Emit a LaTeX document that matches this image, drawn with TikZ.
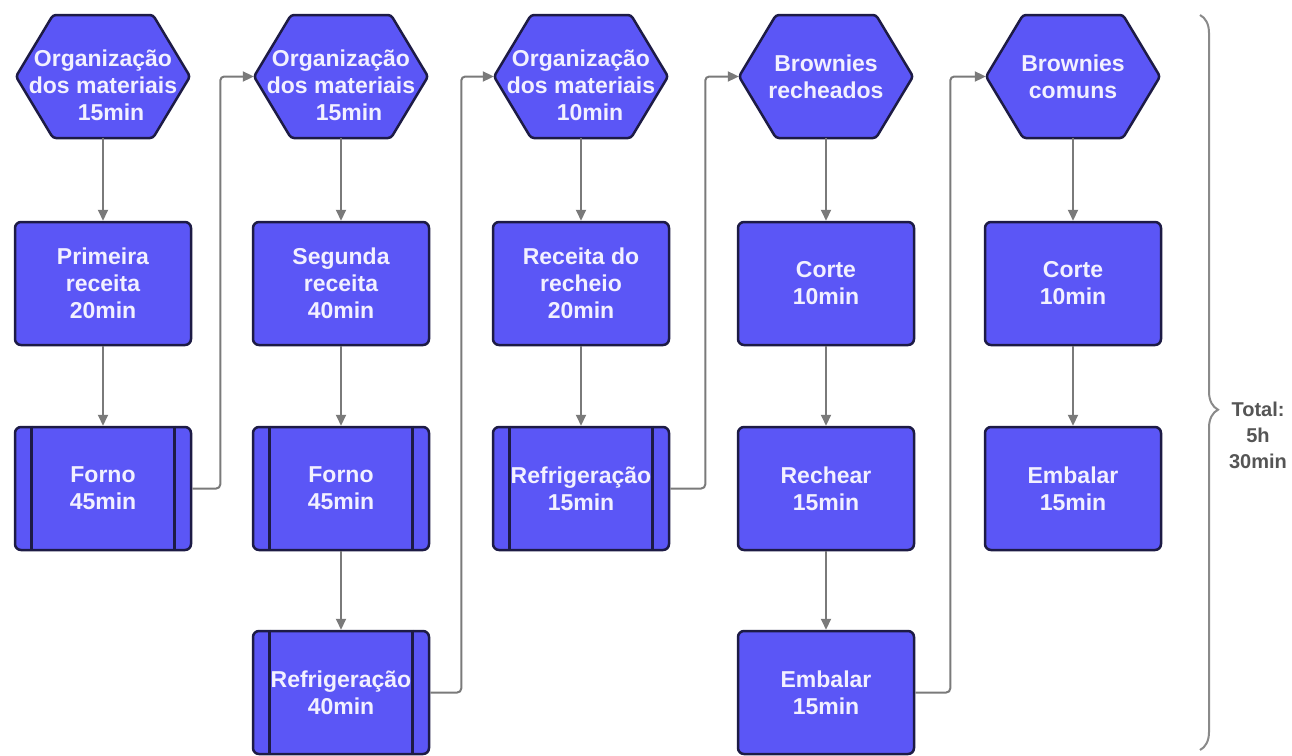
\documentclass[tikz,border=0pt]{standalone}
\usepackage{fontspec}
\setmainfont{Liberation Sans}
\usetikzlibrary{arrows.meta,calc,decorations.pathreplacing}
\definecolor{boxfill}{HTML}{5B56F6}
\definecolor{boxline}{HTML}{1D1B45}
\definecolor{conngray}{HTML}{7A7A7A}
\definecolor{txtwhite}{HTML}{F2F0FF}
\definecolor{totalgray}{HTML}{555555}
\definecolor{bracegray}{HTML}{8A8A8A}
\newcommand\myhex[3]{%
  \begin{scope}[shift={(#2,#3)}]
    \path[hexshape] (-87,0) -- (-50,-61.5) -- (50,-61.5) -- (87,0) -- (50,61.5) -- (-50,61.5) -- cycle;
  \end{scope}
  \node[hexframe] (#1) at (#2,#3) {};}
\newcommand\mysides[1]{%
  \draw[side] ($(#1.north west)+(18,0)$) -- ($(#1.south west)+(18,0)$);
  \draw[side] ($(#1.north east)+(-18,0)$) -- ($(#1.south east)+(-18,0)$);}
\begin{document}
\begin{tikzpicture}[x=1pt,y=-1pt,
  box/.style={draw=boxline, line width=2.5pt, fill=boxfill, rounded corners=6pt,
    minimum width=176pt, minimum height=123pt, inner sep=0pt, text=txtwhite,
    font=\fontsize{23}{27}\selectfont\bfseries, align=center},
  hexshape/.style={draw=boxline, line width=2.5pt, fill=boxfill, line join=round, rounded corners=3pt},
  hexframe/.style={minimum width=174pt, minimum height=123pt, inner sep=0pt},
  txt/.style={text=txtwhite, font=\fontsize{23}{27}\selectfont\bfseries, align=center, inner sep=0pt},
  side/.style={draw=boxline, line width=3pt},
  conn/.style={draw=conngray, line width=2pt, -{Triangle[length=11pt,width=10pt]}, rounded corners=4pt},
  bracestyle/.style={draw=bracegray, line width=2pt, decorate,
    decoration={brace, amplitude=18pt, aspect=0.537}},
  totaltxt/.style={text=totalgray, font=\fontsize{20}{26}\selectfont\bfseries, align=center, inner sep=0pt}
]
\fill[white] (0,0) rectangle (1292,755);
\useasboundingbox (0,0) rectangle (1292,755);

% column 1
\myhex{h1}{103}{76.5}
\node[txt] (h1t) at (103,85) {Organização\\dos materiais\\\hspace*{16pt}15min};
\node[box] (b1) at (103,283.5) {Primeira\\receita\\20min};
\node[box] (f1) at (103,488.5) {Forno\\45min};
\mysides{f1}

% column 2
\myhex{h2}{341}{76.5}
\node[txt] (h2t) at (341,85) {Organização\\dos materiais\\\hspace*{16pt}15min};
\node[box] (b2) at (341,283.5) {Segunda\\receita\\40min};
\node[box] (f2) at (341,488.5) {Forno\\45min};
\mysides{f2}
\node[box] (r2) at (341,692.5) {Refrigeração\\40min};
\mysides{r2}

% column 3
\myhex{h3}{581}{76.5}
\node[txt] (h3t) at (581,85) {Organização\\dos materiais\\\hspace*{18pt}10min};
\node[box] (b3) at (581,283.5) {Receita do\\recheio\\20min};
\node[box] (r3) at (581,488.5) {Refrigeração\\15min};
\mysides{r3}

% column 4
\myhex{h4}{826}{76.5}
\node[txt] (h4t) at (826,76.5) {Brownies\\recheados};
\node[box] (c4) at (826,283.5) {Corte\\10min};
\node[box] (q4) at (826,488.5) {Rechear\\15min};
\node[box] (e4) at (826,692.5) {Embalar\\15min};

% column 5
\myhex{h5}{1073}{76.5}
\node[txt] (h5t) at (1073,76.5) {Brownies\\comuns};
\node[box] (c5) at (1073,283.5) {Corte\\10min};
\node[box] (e5) at (1073,488.5) {Embalar\\15min};

% vertical connectors
\draw[conn] (h1.south) -- (b1.north);
\draw[conn] (b1.south) -- (f1.north);
\draw[conn] (h2.south) -- (b2.north);
\draw[conn] (b2.south) -- (f2.north);
\draw[conn] (f2.south) -- (r2.north);
\draw[conn] (h3.south) -- (b3.north);
\draw[conn] (b3.south) -- (r3.north);
\draw[conn] (h4.south) -- (c4.north);
\draw[conn] (c4.south) -- (q4.north);
\draw[conn] (q4.south) -- (e4.north);
\draw[conn] (h5.south) -- (c5.north);
\draw[conn] (c5.south) -- (e5.north);

% cross-column connectors
\draw[conn] (f1.east) -- ++(28,0) |- (h2.west);
\draw[conn] (r2.east) -- ++(31,0) |- (h3.west);
\draw[conn] (r3.east) -- ++(35,0) |- (h4.west);
\draw[conn] (e4.east) -- ++(35,0) |- (h5.west);

% brace and total
\coordinate (bt) at (1200,15);
\coordinate (bb) at (1200,750);
\draw[bracestyle] (bt) -- (bb);
\node[totaltxt] (tot) at (1258,435) {Total:\\5h\\30min};
\end{tikzpicture}
\end{document}
